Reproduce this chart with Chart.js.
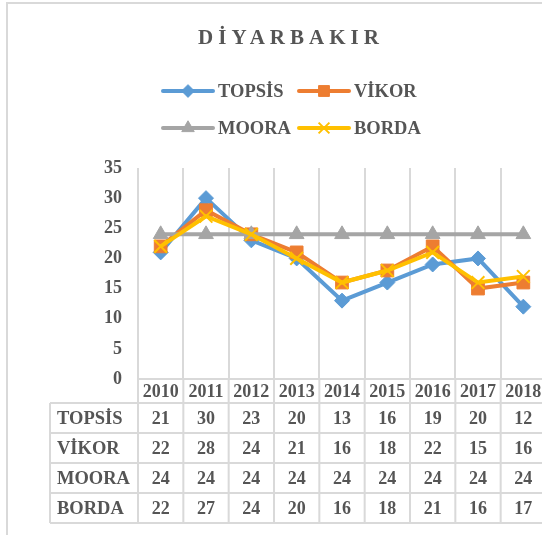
<!DOCTYPE html>
<html><head><meta charset="utf-8">
<script src="https://cdn.jsdelivr.net/npm/chart.js@4/dist/chart.umd.min.js"></script>
<style>
html,body{margin:0;padding:0;overflow:hidden;background:#fff}
#wrap{position:relative;width:560px;height:535px}
</style></head>
<body><div id="wrap"><canvas id="c"></canvas></div>
<script>
const chartTitle = 'DİYARBAKIR';
const years = ['2010','2011','2012','2013','2014','2015','2016','2017','2018'];
const seriesNames = ['TOPSİS','VİKOR','MOORA','BORDA'];
const topsis = [21,30,23,20,13,16,19,20,12];
const vikor  = [22,28,24,21,16,18,22,15,16];
const moora  = [24,24,24,24,24,24,24,24,24];
const borda  = [22,27,24,20,16,18,21,16,17];
const yMin = 0, yMax = 35, yStep = 5;

const FONT = '"Liberation Serif","Times New Roman",serif';
const TXT = '#555555';
const GRID = '#d9d9d9';

const styles = [
  {color:'#5B9BD5', point:'rectRot', r:7.5, bw:1},
  {color:'#ED7D31', point:'rect', r:9, bw:1},
  {color:'#A5A5A5', point:'triangle', r:8.5, bw:1},
  {color:'#FFC000', point:'crossRot', r:9, bw:2}
];
const seriesData = [topsis, vikor, moora, borda];

const datasets = seriesData.map((d,i)=>({
  label: seriesNames[i],
  data: d,
  borderColor: styles[i].color,
  backgroundColor: styles[i].color,
  borderWidth: 4,
  pointStyle: styles[i].point,
  pointRadius: styles[i].r,
  pointBorderWidth: styles[i].bw,
  pointBackgroundColor: styles[i].color,
  pointBorderColor: styles[i].color,
  tension: 0,
  order: 4 - i
}));

const LAYOUT = {
  axisBottom: 379,
  headerH: 24,
  rowH: 30,
  tableLeft: 50,
  labelX: 57
};

const decor = {
  id: 'decor',
  beforeDraw(chart){
    const ctx = chart.ctx;
    ctx.save();
    ctx.strokeStyle = GRID; ctx.lineWidth = 2;
    ctx.beginPath();
    ctx.moveTo(7, 600); ctx.lineTo(7, 3); ctx.lineTo(700, 3);
    ctx.stroke();
    ctx.restore();
  },
  afterDraw(chart){
    const ctx = chart.ctx;
    const xs = chart.scales.x;
    const area = chart.chartArea;
    const n = years.length;
    const step = xs.getPixelForValue(1) - xs.getPixelForValue(0);
    const bottom = area.bottom;
    const headerBottom = bottom + LAYOUT.headerH;
    const tableBottom = headerBottom + LAYOUT.rowH * seriesNames.length;
    ctx.save();
    // title
    ctx.fillStyle = TXT;
    ctx.font = 'bold 21px ' + FONT;
    ctx.textAlign = 'center'; ctx.textBaseline = 'middle';
    if ('letterSpacing' in ctx) ctx.letterSpacing = '5px';
    ctx.fillText(chartTitle, 291, 39);
    if ('letterSpacing' in ctx) ctx.letterSpacing = '0px';
    // legend
    const cols = [161, 297], rows = [91, 128];
    ctx.font = 'bold 18.5px ' + FONT;
    ctx.textAlign = 'left';
    seriesNames.forEach((name,i)=>{
      const cx = cols[i%2], cy = rows[Math.floor(i/2)];
      const st = styles[i];
      ctx.strokeStyle = st.color; ctx.lineWidth = 4; ctx.lineCap = 'round';
      ctx.beginPath(); ctx.moveTo(cx+2, cy); ctx.lineTo(cx+52, cy); ctx.stroke();
      ctx.lineCap = 'butt';
      ctx.fillStyle = st.color; ctx.strokeStyle = st.color; ctx.lineWidth = st.bw;
      Chart.helpers.drawPoint(ctx, {pointStyle: st.point, radius: st.r*0.85, rotation:0, borderWidth: st.bw}, cx+27, cy);
      ctx.fillStyle = TXT;
      ctx.fillText(name, cx+57, cy+1);
    });
    // table grid
    ctx.strokeStyle = GRID; ctx.lineWidth = 2;
    ctx.beginPath();
    for (let i=0;i<=n;i++){
      const x = xs.getPixelForValue(0) - step/2 + i*step;
      ctx.moveTo(x, bottom); ctx.lineTo(x, tableBottom);
    }
    for (let r=0;r<=seriesNames.length;r++){
      const y = headerBottom + r*LAYOUT.rowH;
      ctx.moveTo(LAYOUT.tableLeft, y); ctx.lineTo(area.right, y);
    }
    ctx.moveTo(LAYOUT.tableLeft, headerBottom); ctx.lineTo(LAYOUT.tableLeft, tableBottom);
    ctx.stroke();
    // table text
    ctx.fillStyle = TXT;
    ctx.font = 'bold 18px ' + FONT;
    ctx.textBaseline = 'middle';
    ctx.textAlign = 'center';
    years.forEach((y,i)=>{
      ctx.fillText(y, xs.getPixelForValue(i), bottom + LAYOUT.headerH/2 + 1);
    });
    seriesNames.forEach((name,r)=>{
      const cy = headerBottom + r*LAYOUT.rowH + LAYOUT.rowH/2 + 1;
      ctx.textAlign = 'left';
      ctx.font = 'bold 18.5px ' + FONT;
      ctx.fillText(name, LAYOUT.labelX, cy);
      ctx.textAlign = 'center';
      ctx.font = 'bold 18px ' + FONT;
      seriesData[r].forEach((v,i)=>{
        ctx.fillText(String(v), xs.getPixelForValue(i), cy);
      });
    });
    ctx.restore();
  }
};

new Chart(document.getElementById('c'), {
  type: 'line',
  data: { labels: years, datasets },
  plugins: [decor],
  options: {
    responsive: true, maintainAspectRatio: false, animation: false,
    devicePixelRatio: 1,
    layout: { padding: { left: 0, right: 14, top: 168, bottom: 535 - LAYOUT.axisBottom } },
    plugins: { legend: {display:false}, title: {display:false}, tooltip: {enabled:false} },
    scales: {
      x: {
        offset: true,
        grid: { color: GRID, lineWidth: 2, offset: true, drawTicks: false },
        border: { display: true, color: GRID, width: 2 },
        ticks: { display: false }
      },
      y: {
        min: yMin, max: yMax,
        ticks: { stepSize: yStep, color: TXT, padding: 16, font: { family: FONT, size: 18, weight: 'bold' } },
        grid: { display: false, drawTicks: false },
        border: { display: false },
        afterFit: s => { s.width = 138; }
      }
    }
  }
});
</script>
</body></html>
